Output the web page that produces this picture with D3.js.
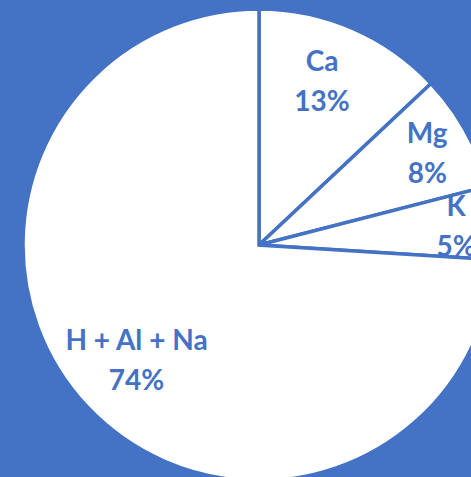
<!DOCTYPE html>
<html><head><meta charset="utf-8">
<script src="https://cdn.jsdelivr.net/npm/d3@7"></script>
<style>html,body{margin:0;padding:0;background:#4472C4;overflow:hidden}</style>
</head><body>
<svg id="c" width="471" height="477"></svg>
<script>
const categories = ["Ca", "Mg", "K", "H + Al + Na"];
const values = [13, 8, 5, 74];
const valueLabels = ["13%", "8%", "5%", "74%"];

const W = 471, H = 477, cx = 259, cy = 245, R = 236;
const blue = "#4472C4";
const labelR = [179, 192, 198, 168];
const labelDx = [-8, 0, 0, 0];

const svg = d3.select("#c");
svg.append("rect").attr("width", W).attr("height", H).attr("fill", blue);
const g = svg.append("g").attr("transform", `translate(${cx},${cy})`);
const pie = d3.pie().sort(null).value(d => d)(values);
const arc = d3.arc().innerRadius(0).outerRadius(R);
g.selectAll("path").data(pie).join("path")
  .attr("d", arc).attr("fill", "#fff").attr("stroke", blue).attr("stroke-width", 3.5)
  .attr("stroke-linejoin", "miter");
g.selectAll("text.lab").data(pie).join("text")
  .attr("class", "lab")
  .each(function(d, i) {
    const a = (d.startAngle + d.endAngle) / 2;
    const x = Math.sin(a) * labelR[i] + labelDx[i], y = -Math.cos(a) * labelR[i];
    const t = d3.select(this).attr("text-anchor", "middle")
      .attr("font-family", "Lato, 'Open Sans', sans-serif").attr("font-weight", "bold")
      .attr("font-size", 28).attr("fill", blue);
    t.append("tspan").attr("x", x).attr("y", y - 10).text(categories[i]);
    t.append("tspan").attr("x", x).attr("y", y + 30).text(valueLabels[i]);
  });
</script>
</body></html>
